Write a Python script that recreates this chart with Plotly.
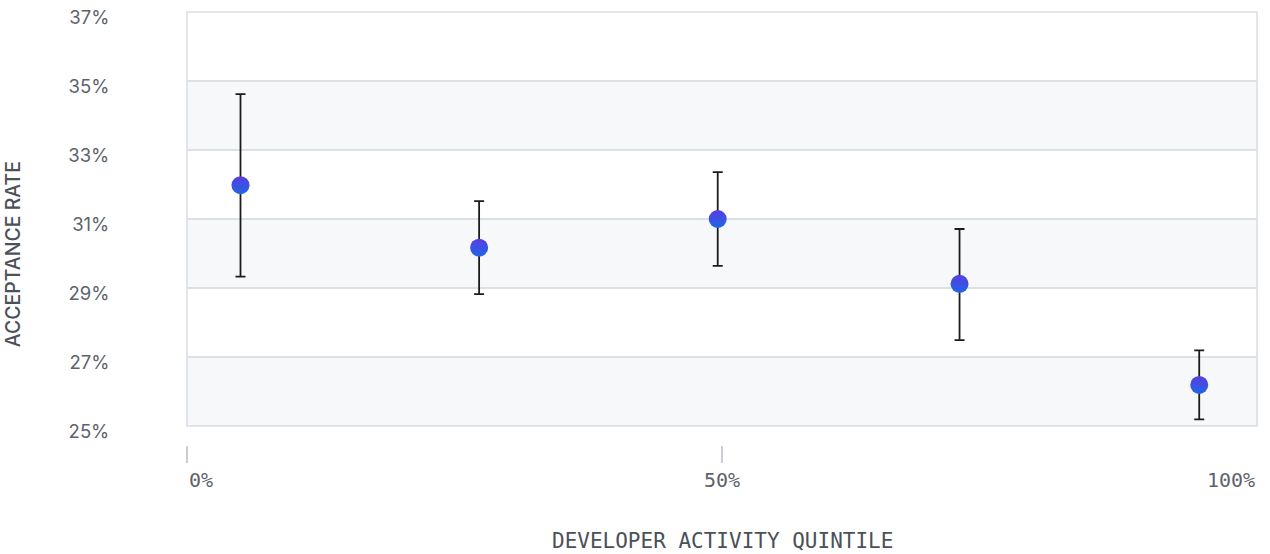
import plotly.graph_objects as go

# Acceptance rate by developer activity quintile (position along activity range, %)
quintile_pos = [5.0, 27.3, 49.6, 72.2, 94.6]
acceptance = [31.98, 30.17, 31.0, 29.12, 26.19]
err_plus = [2.64, 1.35, 1.36, 1.59, 1.0]
err_minus = [2.65, 1.35, 1.36, 1.63, 1.0]

y_ticks = [25, 27, 29, 31, 33, 35, 37]
y_tick_text = ["25%", "27%", "29%", "31%", "33%", "35%", "37%"]
x_tick_vals = [0, 50, 100]
x_tick_text = ["0%", "50%", "100%"]
x_tick_anchor = ["left", "center", "right"]

MONO = "DejaVu Sans Mono"
SANS = "Inter"
TICK_COLOR = "#5d636c"
TITLE_COLOR = "#4b5159"

fig = go.Figure()

fig.add_trace(go.Scatter(
    x=quintile_pos,
    y=acceptance,
    mode="markers",
    marker=dict(
        size=18,
        color="#5a3ce2",
        gradient=dict(type="vertical", color="#1f66e6"),
        line=dict(width=0),
    ),
    error_y=dict(
        type="data",
        symmetric=False,
        array=err_plus,
        arrayminus=err_minus,
        color="#1c1c1c",
        thickness=1.8,
        width=5,
    ),
    showlegend=False,
    hoverinfo="skip",
))

# Alternating horizontal bands
for lo in y_ticks[:-1:2]:
    fig.add_shape(type="rect", xref="x domain", yref="y",
                  x0=0, x1=1, y0=lo, y1=lo + 2,
                  fillcolor="#f7f8fa", line_width=0, layer="below")

# Plot frame
fig.add_shape(type="rect", xref="x domain", yref="y domain",
              x0=0, x1=1, y0=0, y1=1,
              line=dict(color="#d9dde3", width=1.5), layer="above")

# X tick labels, aligned to the ends of the axis
for v, t, a in zip(x_tick_vals, x_tick_text, x_tick_anchor):
    fig.add_annotation(x=v, xref="x", y=-0.0808, yref="paper",
                       text=t, showarrow=False, xanchor=a, yanchor="middle",
                       font=dict(family=MONO, size=20, color=TICK_COLOR))

fig.add_annotation(x=0.5, xref="paper", y=-0.222, yref="paper",
                   text="DEVELOPER ACTIVITY QUINTILE", showarrow=False,
                   xanchor="center", yanchor="middle",
                   font=dict(family=MONO, size=21, color=TITLE_COLOR))

fig.add_annotation(x=-0.1625, xref="paper", y=0.441, yref="paper",
                   text="ACCEPTANCE RATE", showarrow=False, textangle=-90,
                   xanchor="center", yanchor="middle",
                   font=dict(family=SANS, size=19.5, color=TITLE_COLOR, weight=500))

fig.update_layout(
    width=1270,
    height=554,
    margin=dict(l=187, r=13, t=12, b=109, autoexpand=False),
    paper_bgcolor="white",
    plot_bgcolor="white",
    xaxis=dict(
        range=[0, 100],
        anchor="free",
        position=0,
        showgrid=False,
        zeroline=False,
        showline=False,
        tickvals=[0, 50],
        ticks="outside",
        ticklen=17,
        tickwidth=1.5,
        tickcolor="#c9ced5",
        showticklabels=False,
        automargin=False,
        fixedrange=True,
    ),
    yaxis=dict(
        domain=[0.0439, 1],
        range=[25, 37],
        tickvals=y_ticks,
        ticktext=y_tick_text,
        showgrid=True,
        gridcolor="#dde1e6",
        gridwidth=1.5,
        zeroline=False,
        showline=False,
        ticks="outside",
        ticklen=73,
        tickcolor="rgba(0,0,0,0)",
        ticklabelshift=6,
        ticklabeloverflow="allow",
        tickfont=dict(family=SANS, size=18.5, color=TICK_COLOR),
        automargin=False,
        fixedrange=True,
    ),
)

fig.write_html("out.html")
